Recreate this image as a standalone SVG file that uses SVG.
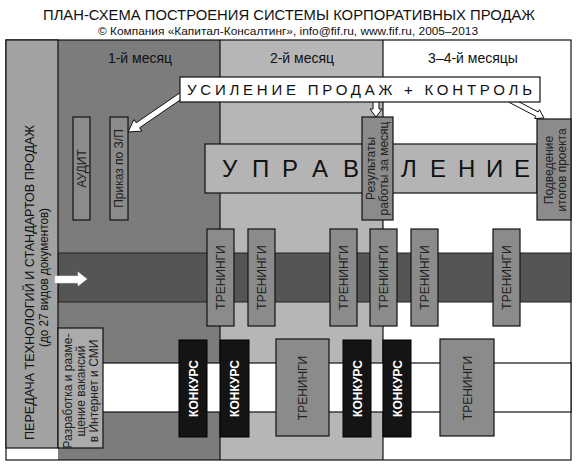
<svg xmlns="http://www.w3.org/2000/svg" width="578" height="468" viewBox="0 0 578 468">
<style>
text{font-family:"Liberation Sans",Arial,sans-serif;fill:#111}
.box{fill:#8b8b8b;stroke:#111;stroke-width:1.2}
.kon{fill:#141414;stroke:#000;stroke-width:1}
.kt{fill:#fff;font-weight:bold;font-size:12px}
.tr{font-size:12px;fill:#222}
.ln{fill:none;stroke:#111;stroke-width:1.2}
.arr{fill:#fff;stroke:#111;stroke-width:1}
</style>
<rect width="578" height="468" fill="#fff"/>
<g id="title">
<text x="289" y="20" font-size="15" text-anchor="middle" textLength="492" lengthAdjust="spacingAndGlyphs">ПЛАН-СХЕМА ПОСТРОЕНИЯ СИСТЕМЫ КОРПОРАТИВНЫХ ПРОДАЖ</text>
<text x="288" y="35" font-size="11" text-anchor="middle" textLength="380" lengthAdjust="spacingAndGlyphs">© Компания «Капитал-Консалтинг», info@fif.ru, www.fif.ru, 2005–2013</text>
</g>
<g id="columns">
<rect x="58" y="40" width="162" height="420" fill="#7c7c7c"/>
<rect x="220" y="40" width="163" height="420" fill="#b6b6b6"/>
<rect x="383" y="40" width="188" height="420" fill="#fff"/>
<rect x="6" y="40" width="565" height="420" class="ln" stroke-width="1.5"/>
<line x1="220" y1="40" x2="220" y2="460" class="ln"/>
<line x1="383" y1="40" x2="383" y2="460" class="ln"/>
<text x="140" y="63" font-size="14" text-anchor="middle">1-й месяц</text>
<text x="302" y="63" font-size="14" text-anchor="middle">2-й месяц</text>
<text x="473" y="63" font-size="14" text-anchor="middle">3–4-й месяцы</text>
</g>
<g id="training-band">
<rect x="58" y="253" width="513" height="49" fill="#555" stroke="#222" stroke-width="1"/>
</g>
<g id="vacancy-band">
<rect x="58" y="363" width="513" height="49" fill="#fff" stroke="#111" stroke-width="1.2"/>
</g>
<g id="transfer">
<rect x="6" y="40" width="52" height="408" fill="#a2a2a2" stroke="#111" stroke-width="1.2"/>
<text transform="translate(34,282.5) rotate(-90)" font-size="12.5" text-anchor="middle" textLength="315" lengthAdjust="spacingAndGlyphs">ПЕРЕДАЧА ТЕХНОЛОГИЙ И СТАНДАРТОВ ПРОДАЖ</text>
<text transform="translate(48,277.5) rotate(-90)" font-size="12" text-anchor="middle" textLength="139" lengthAdjust="spacingAndGlyphs">(до 27 видов документов)</text>
</g>
<g id="management">
<rect x="205" y="144" width="332" height="49" fill="#b4b4b4" stroke="#111" stroke-width="1.2"/>
<text y="177" font-size="24" x="222 252 282 312 343 401 430 458 486 514">УПРАВЛЕНИЕ</text>
</g>
<g id="connectors">
<polygon class="arr" stroke-width="1.2" points="186.7,95.5 139.6,127.8 141.8,131.1 128,132 134,119.5 136.2,122.8 183.3,90.5"/>
<polygon class="arr" points="373,101 379,101 379,109 382,109 376,117 370,109 373,109"/>
<polygon class="arr" points="508.8,102.2 535.8,116.3 534.6,118.5 544,118 539.5,109.7 538.2,111.9 511.2,97.8"/>
<polygon fill="#fff" stroke="#ddd" stroke-width="0.6" points="55,276 78,276 78,272 87,279 78,286 78,283 55,283"/>
</g>
<g id="banner">
<rect x="180" y="77" width="360" height="25" fill="#fff" stroke="#111" stroke-width="1.2"/>
<text x="187" y="95" font-size="15" textLength="345" lengthAdjust="spacing">УСИЛЕНИЕ ПРОДАЖ + КОНТРОЛЬ</text>
</g>
<g id="audit">
<rect x="73" y="117" width="17" height="103" class="box"/>
<text class="tr" transform="translate(81.5,168.5) rotate(-90)" y="4.5" text-anchor="middle">АУДИТ</text>
</g>
<g id="order">
<rect x="110" y="117" width="18" height="103" class="box"/>
<text class="tr" transform="translate(119,168.5) rotate(-90)" y="4" text-anchor="middle">Приказ по З/П</text>
</g>
<g id="results">
<rect x="362" y="117" width="31" height="103" class="box"/>
<text class="tr" transform="translate(377.5,168.5) rotate(-90)" text-anchor="middle"><tspan x="0" y="-3">Результаты</tspan><tspan x="0" y="10.5">работы за месяц</tspan></text>
</g>
<g id="summary">
<rect x="537" y="119" width="34" height="101" class="box"/>
<text class="tr" transform="translate(554,170) rotate(-90)" text-anchor="middle"><tspan x="0" y="-1">Подведение</tspan><tspan x="0" y="12">итогов проекта</tspan></text>
</g>
<g id="trainings-row">
<rect x="207" y="229" width="27" height="97" class="box"/>
<text class="tr" transform="translate(220.5,277.5) rotate(-90)" y="4.5" text-anchor="middle">ТРЕНИНГИ</text>
<rect x="248" y="229" width="27" height="97" class="box"/>
<text class="tr" transform="translate(261.5,277.5) rotate(-90)" y="4.5" text-anchor="middle">ТРЕНИНГИ</text>
<rect x="330" y="229" width="27" height="97" class="box"/>
<text class="tr" transform="translate(343.5,277.5) rotate(-90)" y="4.5" text-anchor="middle">ТРЕНИНГИ</text>
<rect x="370" y="229" width="27" height="97" class="box"/>
<text class="tr" transform="translate(383.5,277.5) rotate(-90)" y="4.5" text-anchor="middle">ТРЕНИНГИ</text>
<rect x="411" y="229" width="27" height="97" class="box"/>
<text class="tr" transform="translate(424.5,277.5) rotate(-90)" y="4.5" text-anchor="middle">ТРЕНИНГИ</text>
<rect x="493" y="229" width="27" height="97" class="box"/>
<text class="tr" transform="translate(506.5,277.5) rotate(-90)" y="4.5" text-anchor="middle">ТРЕНИНГИ</text>
</g>
<g id="vacancies">
<rect x="58" y="328" width="45" height="120" fill="#ababab" stroke="#111" stroke-width="1.2"/>
<text class="tr" font-size="11.5" transform="translate(80.5,391) rotate(-90)" text-anchor="middle"><tspan x="0" y="-8.5">Разработка и разме-</tspan><tspan x="0" y="4.5">щение вакансий</tspan><tspan x="0" y="17.5">в Интернет и СМИ</tspan></text>
</g>
<g id="contest-row">
<rect x="179" y="340" width="28" height="97" class="kon"/>
<text class="kt" transform="translate(193,388.5) rotate(-90)" y="4.5" text-anchor="middle">КОНКУРС</text>
<rect x="220" y="340" width="29" height="97" class="kon"/>
<text class="kt" transform="translate(234.5,388.5) rotate(-90)" y="4.5" text-anchor="middle">КОНКУРС</text>
<rect x="276" y="339" width="53" height="97" class="box"/>
<text class="tr" transform="translate(302.5,388) rotate(-90)" y="4.5" text-anchor="middle">ТРЕНИНГИ</text>
<rect x="343" y="340" width="28" height="97" class="kon"/>
<text class="kt" transform="translate(357,388.5) rotate(-90)" y="4.5" text-anchor="middle">КОНКУРС</text>
<rect x="383" y="340" width="28" height="97" class="kon"/>
<text class="kt" transform="translate(397,388.5) rotate(-90)" y="4.5" text-anchor="middle">КОНКУРС</text>
<rect x="440" y="339" width="54" height="97" class="box"/>
<text class="tr" transform="translate(467,388) rotate(-90)" y="4.5" text-anchor="middle">ТРЕНИНГИ</text>
</g>
</svg>
